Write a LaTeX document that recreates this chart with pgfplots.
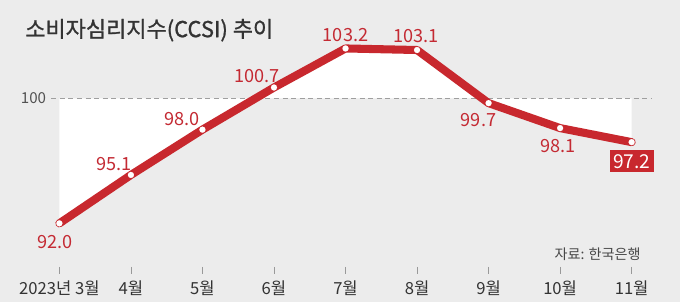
\documentclass[border=0pt]{standalone}
\usepackage{pgfplots}
\pgfplotsset{compat=1.18}
\usepackage{fontspec}
\setmainfont{Noto Sans CJK KR}
\newfontfamily\titlefont{Noto Sans CJK KR}[FakeBold=1.0]
\definecolor{bg}{HTML}{ECECEC}
\definecolor{ccred}{HTML}{C8282E}
\definecolor{labred}{HTML}{C42A33}
\definecolor{txt}{HTML}{333333}
\begin{document}
\begin{tikzpicture}
\begin{axis}[
  scale only axis, width=680bp, height=311bp,
  xmin=-0.859, xmax=8.718, ymin=86.239, ymax=106.303,
  axis lines=none, xtick=\empty, ytick=\empty,
  clip=false,
]
% background panel
\fill[bg] (rel axis cs:0.003,0.0354) rectangle (rel axis cs:0.9956,1);
% white area between curve and 100
\addplot[fill=white, draw=none] coordinates {
  (0,100) (0,92.0) (1,95.1) (2,98.0) (3,100.7) (4,103.2) (5,103.1) (6,99.7) (7,98.1) (8,97.2) (8,100)
};
% 100 reference line
\draw[gray!75, line width=0.7bp, dash pattern=on 5bp off 3.5bp] (axis cs:-0.113,100) -- (axis cs:8.268,100);
\node[anchor=east, inner sep=0, text=txt!85, font=\fontsize{15bp}{15bp}\selectfont] at (axis cs:-0.183,100) {100};
% data line
\addplot[ccred, line width=8bp, line cap=round, line join=round,
  mark=*, mark size=3bp, mark options={fill=white, draw=white, line width=0.1bp}]
  coordinates {(0,92.0) (1,95.1) (2,98.0) (3,100.7) (4,103.2) (5,103.1) (6,99.7) (7,98.1) (8,97.2)};
% data labels
\begin{scope}[every node/.style={inner sep=0, text=labred, font=\fontsize{18bp}{18bp}\selectfont}]
\node at (axis cs:-0.056,90.819) {92.0};
\node at (axis cs:0.761,95.787) {95.1};
\node at (axis cs:1.718,98.690) {98.0};
\node at (axis cs:2.761,101.465) {100.7};
\node at (axis cs:4.0,104.045) {103.2};
\node at (axis cs:4.986,104.013) {103.1};
\node at (axis cs:5.859,98.626) {99.7};
\node at (axis cs:6.972,96.948) {98.1};
\end{scope}
\node[fill=ccred, text=white, inner xsep=3.5bp, inner ysep=4bp, font=\fontsize{19bp}{19bp}\selectfont] at (axis cs:8.0,95.981) {97.2};
% title
\node[anchor=west, inner sep=0, text=txt, font=\titlefont\fontsize{21.8bp}{22bp}\selectfont] at (axis cs:-0.479,104.368) {소비자심리지수(CCSI) 추이};
% source
\node[anchor=east, inner sep=0, text=txt!90, font=\fontsize{14bp}{14bp}\selectfont] at (axis cs:8.127,90.045) {자료: 한국은행};
% ticks
\pgfplotsinvokeforeach{0,...,8}{
  \draw[gray!80, line width=0.6bp] (axis cs:#1,89.206) -- (axis cs:#1,88.755);
}
\begin{scope}[every node/.style={inner sep=0, text=txt, font=\fontsize{16.5bp}{16.5bp}\selectfont}]
\node at (axis cs:0,87.85) {2023년 3월};
\node at (axis cs:1,87.85) {4월};
\node at (axis cs:2,87.85) {5월};
\node at (axis cs:3,87.85) {6월};
\node at (axis cs:4,87.85) {7월};
\node at (axis cs:5,87.85) {8월};
\node at (axis cs:6,87.85) {9월};
\node at (axis cs:7,87.85) {10월};
\node at (axis cs:8,87.85) {11월};
\end{scope}
\end{axis}
\end{tikzpicture}
\end{document}
